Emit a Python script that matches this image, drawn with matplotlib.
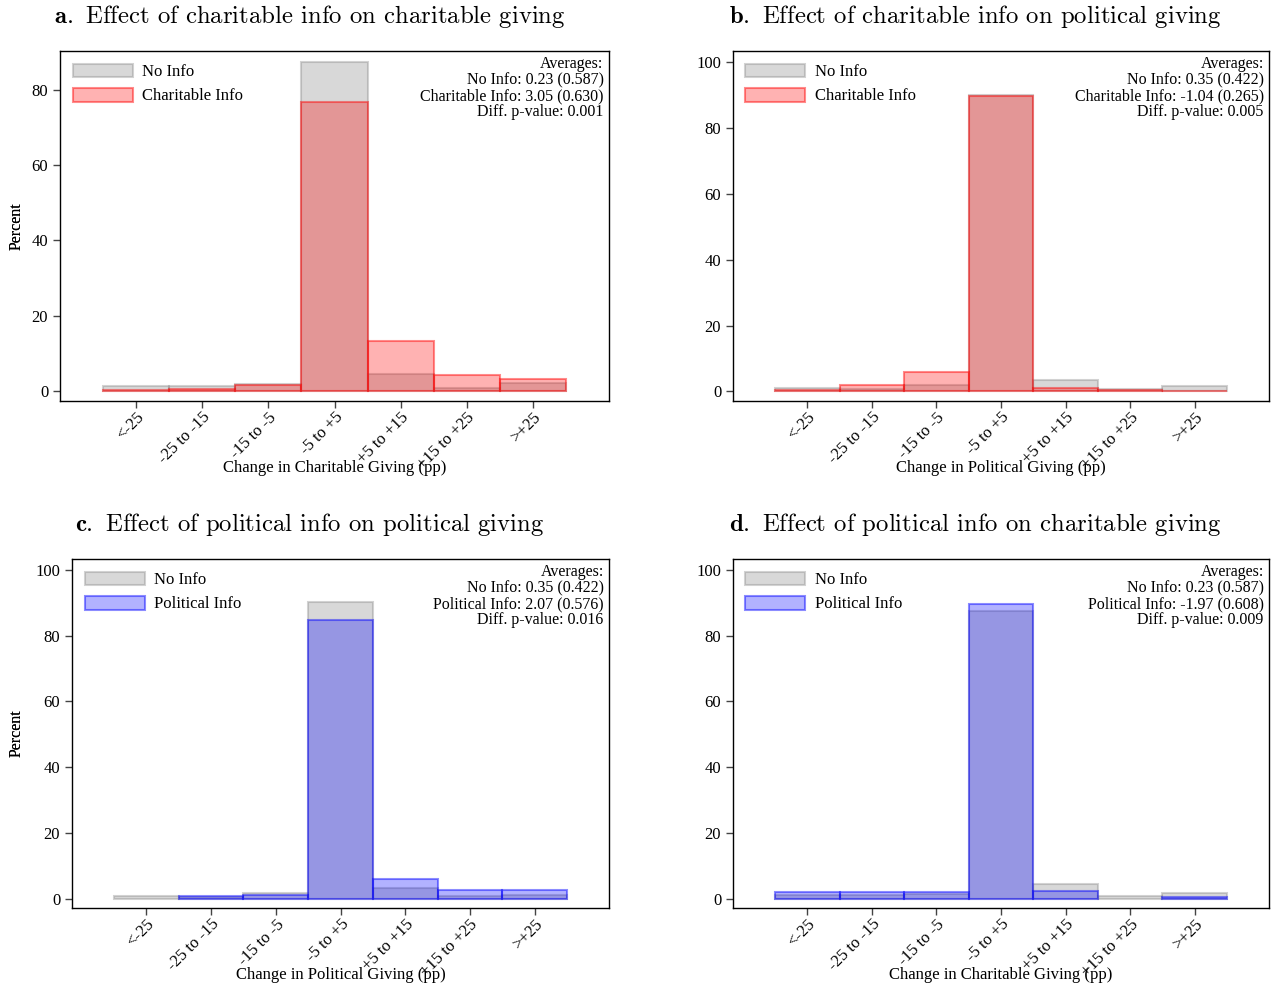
import numpy as np
import matplotlib
matplotlib.use("Agg")
import matplotlib.pyplot as plt
from matplotlib.patches import Patch

plt.rcParams['font.family'] = ['Liberation Serif', 'DejaVu Serif']
plt.rcParams['mathtext.fontset'] = 'cm'

cats = ['<-25', '-25 to -15', '-15 to -5', '-5 to +5', '+5 to +15', '+15 to +25', '>+25']

# percent of respondents per bin
a_noinfo = [1.3, 1.2, 1.7, 87.5, 4.5, 0.8, 2.1]
a_info = [0.35, 0.45, 1.5, 76.9, 13.3, 4.25, 3.2]
b_noinfo = [0.9, 0.7, 2.1, 90.0, 3.5, 0.8, 1.5]
b_info = [0.4, 2.1, 6.0, 89.7, 1.1, 0.5, 0.2]
c_noinfo = [0.7, 0.5, 1.9, 90.3, 3.4, 0.8, 1.3]
c_info = [0.0, 1.0, 1.3, 84.8, 6.1, 2.7, 2.7]
d_noinfo = [1.3, 1.3, 1.5, 87.5, 4.4, 0.7, 1.9]
d_info = [2.1, 2.1, 2.2, 89.7, 2.4, 0.0, 0.4]

titles = [r'$\mathbf{a.}$ Effect of charitable info on charitable giving',
          r'$\mathbf{b.}$ Effect of charitable info on political giving',
          r'$\mathbf{c.}$ Effect of political info on political giving',
          r'$\mathbf{d.}$ Effect of political info on charitable giving']
xlabels = ['Change in Charitable Giving (pp)', 'Change in Political Giving (pp)',
           'Change in Political Giving (pp)', 'Change in Charitable Giving (pp)']
info_labels = ['Charitable Info', 'Charitable Info', 'Political Info', 'Political Info']
averages = [['No Info: 0.23 (0.587)', 'Charitable Info: 3.05 (0.630)', 'Diff. p-value: 0.001'],
            ['No Info: 0.35 (0.422)', 'Charitable Info: -1.04 (0.265)', 'Diff. p-value: 0.005'],
            ['No Info: 0.35 (0.422)', 'Political Info: 2.07 (0.576)', 'Diff. p-value: 0.016'],
            ['No Info: 0.23 (0.587)', 'Political Info: -1.97 (0.608)', 'Diff. p-value: 0.009']]

noinfo = [a_noinfo, b_noinfo, c_noinfo, d_noinfo]
info = [a_info, b_info, c_info, d_info]
colors = ['red', 'red', 'blue', 'blue']

W, H = 1271, 989
fig = plt.figure(figsize=(W / 100, H / 100), dpi=100)

# axes boxes in pixels: left, right, top, bottom
boxes = [(60, 609, 51, 401), (733, 1269, 51, 401), (72, 609, 559, 908), (733, 1269, 559, 908)]
ylims = [(-2.7, 90.4), (-2.9, 103.3), (-2.8, 103.3), (-2.8, 103.3)]
yticks = [[0, 20, 40, 60, 80], [0, 20, 40, 60, 80, 100], [0, 20, 40, 60, 80, 100], [0, 20, 40, 60, 80, 100]]
title_pos = [(310, 17), (975, 17), (310, 525), (975, 525)]

gray_face = (0.5, 0.5, 0.5, 0.3)
gray_edge = (0.5, 0.5, 0.5, 0.35)

for i in range(4):
    l, r, t, b = boxes[i]
    ax = fig.add_axes([l / W, 1 - b / H, (r - l) / W, (b - t) / H])
    x = np.arange(len(cats))
    face = matplotlib.colors.to_rgba(colors[i], 0.3)
    edge = matplotlib.colors.to_rgba(colors[i], 0.45)
    for j in range(len(cats)):
        if noinfo[i][j] > 0:
            ax.bar(x[j], noinfo[i][j], width=1.0, color=gray_face, edgecolor=gray_edge, linewidth=1.5)
    for j in range(len(cats)):
        if info[i][j] > 0:
            ax.bar(x[j], info[i][j], width=1.0, color=face, edgecolor=edge, linewidth=1.5)

    ax.set_xlim(-1.15, 7.15)
    ax.set_ylim(*ylims[i])
    ax.set_yticks(yticks[i])
    ax.set_xticks(x)
    ax.set_xticklabels(cats, rotation=45, ha='right', rotation_mode='anchor')
    ax.tick_params(direction='out', length=5, width=1, color='#444444', labelsize=12)
    ax.tick_params(axis='x', pad=1)
    for s in ax.spines.values():
        s.set_linewidth(1)
        s.set_color('black')

    ax.set_xlabel(xlabels[i], fontsize=12)
    ax.xaxis.set_label_coords(0.5, -0.168)
    ax.set_ylabel('Percent', fontsize=11.5)
    ax.yaxis.set_label_coords((25 - l) / (r - l), 0.5)

    handles = [Patch(facecolor=gray_face, edgecolor=gray_edge, linewidth=1.5, label='No Info'),
               Patch(facecolor=face, edgecolor=edge, linewidth=1.5, label=info_labels[i])]
    ax.legend(handles=handles, loc='upper left', frameon=False, fontsize=12,
              handlelength=3.6, handleheight=0.9, handletextpad=0.55,
              labelspacing=0.45, borderaxespad=0.3, borderpad=0.45)

    ax.text(0.99, 0.985, 'Averages:\n' + '\n'.join(averages[i]), transform=ax.transAxes,
            ha='right', va='top', fontsize=11.5, linespacing=1.0)

    tx, ty = title_pos[i]
    fig.text(tx / W, 1 - ty / H, titles[i], ha='center', va='center',
             fontsize=17.8, family='cmr10')

fig.savefig('out.png', dpi=100)
